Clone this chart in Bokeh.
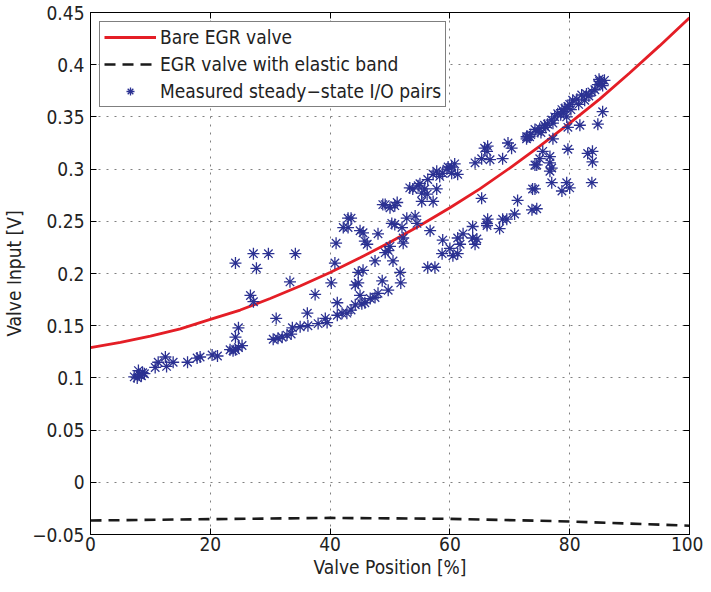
from bokeh.plotting import figure
from bokeh.models import LinearAxis, FixedTicker, CustomJSTickFormatter, Range1d, ColumnDataSource
from bokeh.embed import file_html
from bokeh.resources import INLINE

# ---- data ----
curve_x = [0, 5, 10, 15, 20, 25, 30, 35, 40, 45, 50, 55, 60, 65, 70, 75, 80, 85, 90, 95, 100]
bare_y = [0.129, 0.134, 0.140, 0.147, 0.156, 0.165, 0.176, 0.188, 0.201, 0.215, 0.230,
          0.246, 0.263, 0.281, 0.301, 0.322, 0.344, 0.367, 0.392, 0.418, 0.445]
band_x = [0, 20, 40, 60, 80, 100]
band_y = [-0.0366, -0.0353, -0.0341, -0.0350, -0.0375, -0.0416]

meas_x = [7.3, 7.8, 8.2, 8.7, 9.0, 8.0, 8.5,
          10.8, 11.3, 12.5, 12.7, 13.8, 16.2, 17.8, 18.3, 20.3, 21.2, 23.3, 23.8, 24.2, 24.7, 25.3,
          24.2, 24.7, 26.7, 27.2, 24.2, 27.2, 27.7, 29.7, 31.0,
          30.5, 31.3, 32.0, 32.8, 33.5, 33.7, 35.0, 36.3, 38.0, 39.2, 39.5, 41.2, 42.0, 42.8, 43.5,
          33.3, 34.2, 36.2, 37.5, 40.2, 40.8, 41.0, 41.2,
          42.2, 43.0, 43.5, 43.0, 45.0, 45.5, 45.8, 46.2,
          44.7, 45.5, 44.2, 44.7, 45.0, 44.2, 45.3, 45.8, 46.7, 47.5, 48.0, 48.7, 49.7, 47.5, 48.0,
          48.8, 50.0, 51.2, 49.2, 50.8,
          49.2, 49.7, 50.0, 50.5, 50.3, 50.8, 52.0, 51.7, 51.8, 52.2, 52.2, 52.8, 54.2, 54.5, 56.7,
          53.3, 54.7, 55.3, 53.8, 55.0, 55.8, 56.2, 55.3, 57.2, 57.8, 56.3, 57.2, 57.8, 58.3, 58.8,
          59.5, 59.7, 60.3, 60.8, 61.3, 60.3,
          64.2, 65.3, 65.8, 66.3, 66.7, 66.2, 69.7, 70.3, 68.8,
          65.3, 71.3, 73.7, 74.5, 73.8, 74.2,
          56.3, 57.5, 58.8, 58.7, 60.0, 60.5, 61.3, 61.7, 61.3, 62.2, 63.8, 63.8, 64.2, 64.5, 66.2,
          66.3, 66.2, 68.3, 68.8, 69.5, 70.8,
          72.8, 73.3, 73.0, 72.8, 74.2, 74.7, 75.0, 75.8, 76.3, 77.0, 77.5, 78.0, 78.7, 79.2, 79.7,
          80.0, 80.5, 81.2, 82.0, 82.8, 83.7, 84.2, 84.7, 85.0, 85.3, 85.8, 85.5, 84.9,
          78.5, 79.0, 79.5, 80.2, 81.5, 82.5, 83.2, 76.0, 77.2, 75.2, 73.5,
          85.5, 84.7, 81.7, 79.7, 77.2, 75.5, 75.0, 74.5, 76.7, 76.7, 77.0, 76.7, 79.7, 83.0, 83.8,
          83.8, 83.7, 77.0, 78.7, 79.5, 80.0, 74.2]
meas_y = [0.101, 0.100, 0.103, 0.105, 0.104, 0.107, 0.102,
          0.110, 0.115, 0.120, 0.111, 0.115, 0.115, 0.119, 0.120, 0.122, 0.121, 0.127, 0.126, 0.127, 0.129, 0.131,
          0.139, 0.148, 0.179, 0.173, 0.210, 0.219, 0.205, 0.219, 0.157,
          0.137, 0.138, 0.139, 0.141, 0.142, 0.148, 0.149, 0.150, 0.152, 0.157, 0.153, 0.160, 0.162, 0.162, 0.165,
          0.192, 0.219, 0.162, 0.180, 0.191, 0.210, 0.229, 0.172,
          0.244, 0.253, 0.253, 0.244, 0.241, 0.239, 0.231, 0.228,
          0.201, 0.203, 0.189, 0.191, 0.179, 0.170, 0.171, 0.172, 0.176, 0.177, 0.181, 0.193, 0.184, 0.212, 0.238,
          0.266, 0.263, 0.268, 0.266, 0.265,
          0.220, 0.222, 0.226, 0.212, 0.248, 0.247, 0.244, 0.201, 0.191, 0.234, 0.229, 0.253, 0.255, 0.248, 0.241,
          0.282, 0.284, 0.277, 0.281, 0.286, 0.281, 0.276, 0.269, 0.269, 0.281, 0.290, 0.295, 0.298, 0.293, 0.296,
          0.300, 0.302, 0.296, 0.305, 0.295, 0.302,
          0.306, 0.310, 0.320, 0.322, 0.309, 0.317, 0.325, 0.320, 0.310,
          0.272, 0.270, 0.261, 0.262, 0.281, 0.304,
          0.206, 0.206, 0.232, 0.219, 0.224, 0.217, 0.219, 0.228, 0.234, 0.238, 0.245, 0.234, 0.228, 0.233, 0.248,
          0.252, 0.246, 0.243, 0.252, 0.252, 0.257,
          0.331, 0.331, 0.331, 0.329, 0.338, 0.336, 0.339, 0.342, 0.343, 0.347, 0.350, 0.353, 0.357, 0.358, 0.360,
          0.362, 0.366, 0.367, 0.371, 0.372, 0.374, 0.376, 0.381, 0.384, 0.382, 0.385, 0.380, 0.386,
          0.352, 0.355, 0.350, 0.357, 0.362, 0.366, 0.370, 0.340, 0.344, 0.335, 0.333,
          0.355, 0.343, 0.342, 0.340, 0.329, 0.317, 0.310, 0.304, 0.312, 0.306, 0.301, 0.298, 0.319, 0.315, 0.317,
          0.307, 0.287, 0.287, 0.279, 0.287, 0.282, 0.281]

x_ticks = [0, 20, 40, 60, 80, 100]
y_ticks = [-0.05, 0, 0.05, 0.1, 0.15, 0.2, 0.25, 0.3, 0.35, 0.4, 0.45]

FONT = "'Liberation Sans Narrow', 'DejaVu Sans Condensed', 'Liberation Sans', sans-serif"
FS = "19px"
TXT = "#222222"

p = figure(width=703, height=584, output_backend="svg", toolbar_location=None,
           x_range=Range1d(0, 100), y_range=Range1d(-0.05, 0.45),
           min_border_left=87, min_border_top=12, min_border_right=14, min_border_bottom=50)
p.background_fill_color = "white"
p.border_fill_color = "white"
p.outline_line_color = "black"
p.outline_line_width = 1

# grid
p.xgrid.ticker = FixedTicker(ticks=x_ticks)
p.ygrid.ticker = FixedTicker(ticks=y_ticks)
for g in (p.xgrid, p.ygrid):
    g.grid_line_color = "#808080"
    g.grid_line_dash = "2 6"
    g.grid_line_width = 1

fmt = CustomJSTickFormatter(code="""
let s = tick.toFixed(2).replace(/0+$/, '').replace(/\\.$/, '');
if (s === '-0') s = '0';
return s.replace('-', '\u2212');
""")
blank = CustomJSTickFormatter(code="return '';")

for ax in (p.xaxis[0], p.yaxis[0]):
    ax.major_tick_in = 6
    ax.major_tick_out = 0
    ax.minor_tick_line_color = None
    ax.major_label_text_font = FONT
    ax.major_label_text_font_size = FS
    ax.major_label_text_color = TXT
    ax.axis_label_text_font = FONT
    ax.axis_label_text_font_size = FS
    ax.axis_label_text_font_style = "normal"
    ax.axis_label_text_color = TXT
    ax.axis_line_color = "black"
    ax.formatter = fmt
p.xaxis[0].ticker = FixedTicker(ticks=x_ticks)
p.yaxis[0].ticker = FixedTicker(ticks=y_ticks)
p.xaxis[0].axis_label = "Valve Position [%]"
p.yaxis[0].axis_label = "Valve Input [V]"
p.xaxis[0].major_label_standoff = 2
p.yaxis[0].major_label_standoff = 6
p.xaxis[0].axis_label_standoff = 2
p.yaxis[0].axis_label_standoff = 4

for side, ticks in (("above", x_ticks), ("right", y_ticks)):
    a = LinearAxis(ticker=FixedTicker(ticks=ticks), major_tick_in=6, major_tick_out=0,
                   minor_tick_line_color=None, formatter=blank,
                   major_label_standoff=0, axis_line_color="black")
    p.add_layout(a, side)

src_bare = ColumnDataSource(dict(x=curve_x, y=bare_y))
src_band = ColumnDataSource(dict(x=band_x, y=band_y))
src_meas = ColumnDataSource(dict(x=meas_x, y=meas_y))

p.line("x", "y", source=src_bare, line_color="#e41e26", line_width=2.8, legend_label="Bare EGR valve")
p.line("x", "y", source=src_band, line_color="#1a1a1a", line_width=2.6, line_dash="11 7",
       legend_label="EGR valve with elastic band")
p.scatter("x", "y", source=src_meas, marker="asterisk", size=12, line_color="#2b3192",
          line_width=1.3, legend_label="Measured steady\u2212state I/O pairs")

lg = p.legend[0]
lg.location = "top_left"
lg.margin = 9
lg.padding = 4
lg.spacing = 5
lg.glyph_width = 52
lg.glyph_height = 20
lg.label_height = 20
lg.label_standoff = 4
lg.label_text_font = FONT
lg.label_text_font_size = FS
lg.label_text_color = TXT
lg.border_line_color = "black"
lg.border_line_width = 1
lg.background_fill_color = "white"
lg.background_fill_alpha = 1

open("out.html", "w").write(file_html(p, INLINE))
